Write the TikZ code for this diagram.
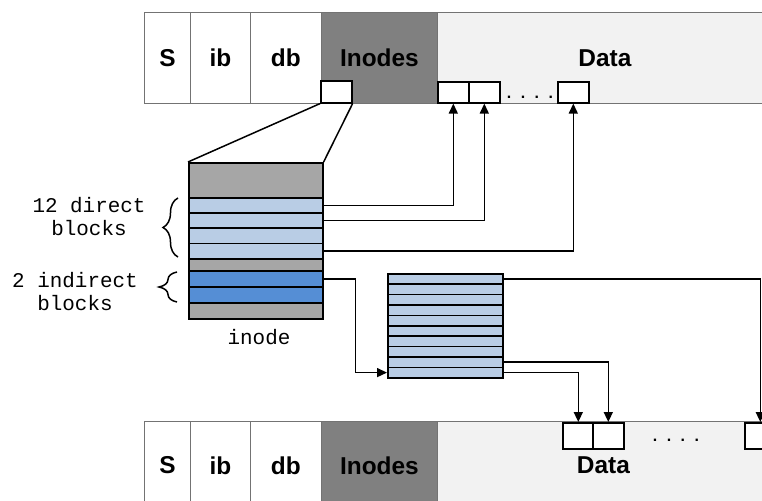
\documentclass[tikz,border=0pt]{standalone}
\usepackage{fontspec}
\setmainfont{Liberation Sans}
\newfontfamily\monof{Liberation Mono}
\usetikzlibrary{arrows.meta,decorations.pathreplacing}
\definecolor{inodegray}{HTML}{808080}
\definecolor{datagray}{HTML}{F2F2F2}
\definecolor{rowgray}{HTML}{A6A6A6}
\definecolor{lightblue}{HTML}{B9CDE5}
\definecolor{darkblue}{HTML}{558ED5}
\begin{document}
\begin{tikzpicture}[x=1bp,y=-1bp,
  cell/.style={draw=black!55,line width=0.8bp,inner sep=0pt,anchor=north west,
    font=\bfseries\fontsize{24.5}{26}\selectfont},
  slot/.style={draw=black,fill=white,line width=1.6bp,inner sep=0pt,anchor=north west,
    minimum width=31bp},
  row/.style={draw=black,line width=1.6bp,inner sep=0pt,anchor=north west,minimum width=134bp},
  irow/.style={draw=black,line width=1.6bp,fill=lightblue,inner sep=0pt,anchor=north west,
    minimum width=115bp,minimum height=10.4bp},
  mono/.style={font=\monof\fontsize{21}{23.5}\selectfont,align=center,inner sep=0pt},
  conn/.style={line width=1.5bp},
  arr/.style={line width=1.5bp,-{Triangle[length=10bp,width=9bp]}},
  br/.style={line width=1.5bp,decorate},
  dots/.style={font=\bfseries\fontsize{16}{16}\selectfont,inner sep=0pt}
]
\useasboundingbox (0,0) rectangle (762,501);

% ---------- top bar ----------
\node[cell,minimum width=46bp,minimum height=91bp,fill=white] (tS) at (144,12) {S};
\node[cell,minimum width=60bp,minimum height=91bp,fill=white] (tib) at (190,12) {ib};
\node[cell,minimum width=71bp,minimum height=91bp,fill=white] (tdb) at (250,12) {db};
\node[cell,minimum width=116bp,minimum height=91bp,fill=inodegray] (tin) at (321,12) {Inodes};
\node[cell,minimum width=330bp,minimum height=91bp,fill=datagray] (tdata) at (437,12) {\hspace*{5bp}Data};

\node[slot,minimum height=22bp] (tino) at (320,80) {};
\node[slot,minimum height=21bp] (tb1) at (437,81) {};
\node[slot,minimum height=21bp] (tb2) at (468,81) {};
\node[slot,minimum height=21bp] (tb3) at (557,81) {};
\node[dots] (tdots) at (530,97) {.\hspace{9.5bp}.\hspace{9.5bp}.\hspace{9.5bp}.};

% ---------- inode ----------
\node[row,fill=rowgray,minimum height=35bp] (g1) at (188,162) {};
\node[row,fill=lightblue,minimum height=15.25bp] (d1) at (188,197) {};
\node[row,fill=lightblue,minimum height=15.25bp] (d2) at (188,212.25) {};
\node[row,fill=lightblue,minimum height=15.25bp] (d3) at (188,227.5) {};
\node[row,fill=lightblue,minimum height=15.25bp] (d4) at (188,242.75) {};
\node[row,fill=rowgray,minimum height=12bp] (g2) at (188,258) {};
\node[row,fill=darkblue,minimum height=16bp] (i1) at (188,270) {};
\node[row,fill=darkblue,minimum height=16bp] (i2) at (188,286) {};
\node[row,fill=rowgray,minimum height=16bp] (g3) at (188,302) {};
\node[mono] (lbl) at (259,337) {inode};

\draw[conn] (tino.south west) -- (g1.north west);
\draw[conn] (tino.south east) -- (g1.north east);

% labels and braces
\node[mono] (ldir) at (89,216.5) {12 direct\\blocks};
\node[mono] (lind) at (75,291.5) {2 indirect\\blocks};
\draw[br,decoration={brace,amplitude=15bp}] (178,257) -- (178,198);
\draw[br,decoration={brace,amplitude=18bp}] (177,302) -- (177,272);

% ---------- indirect block ----------
\foreach \k in {1,...,10}{
  \node[irow] (ib\k) at (387,{273+(\k-1)*10.4}) {};
}

% ---------- bottom bar ----------
\node[cell,minimum width=46bp,minimum height=88bp,fill=white] (bS) at (144,421) {S};
\node[cell,minimum width=60bp,minimum height=88bp,fill=white] (bib) at (190,421) {ib};
\node[cell,minimum width=71bp,minimum height=88bp,fill=white] (bdb) at (250,421) {db};
\node[cell,minimum width=116bp,minimum height=88bp,fill=inodegray] (bin) at (321,421) {Inodes};
\node[cell,minimum width=330bp,minimum height=88bp,fill=datagray] (bdata) at (437,421) {\hspace*{2bp}Data};

\node[slot,minimum height=26bp] (bb1) at (562,422) {};
\node[slot,minimum height=26bp] (bb2) at (592,422) {};
\node[slot,minimum height=26bp] (bb3) at (744,422) {};
\node[dots] (bdots) at (676,440) {.\hspace{9.5bp}.\hspace{9.5bp}.\hspace{9.5bp}.};

% ---------- connectors ----------
\draw[arr] (d1.east) -| (tb1.south);
\draw[arr] (d2.east) -| (tb2.south);
\draw[arr] (d4.east) -| (tb3.south);
\draw[arr] (i1.east) -- ++(32,0) |- (ib10.west);
\draw[arr] (ib1.east) -| (bb3.north);
\draw[arr] (ib9.east) -| (bb2.north);
\draw[arr] (ib10.east) -| (bb1.north);
\end{tikzpicture}
\end{document}
